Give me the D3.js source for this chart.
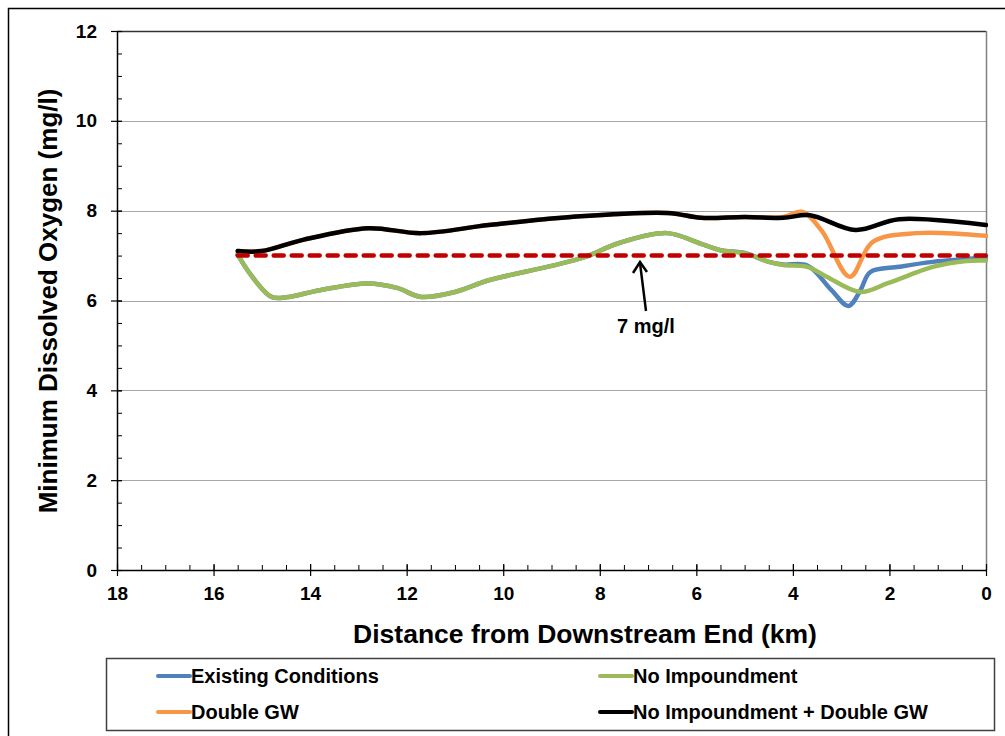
<!DOCTYPE html>
<html>
<head>
<meta charset="utf-8">
<script src="https://cdn.jsdelivr.net/npm/d3@7"></script>
<style>
  body { margin: 0; background: #fff; }
  svg { display: block; font-family: "Liberation Sans", Arial, sans-serif; }
  .tick text { font-size: 19px; font-weight: bold; fill: #000; }
</style>
</head>
<body>
<div id="chart"></div>
<script>
const existingKm  = [15.5, 15.2, 14.8, 14.5, 13.8, 12.8, 12.2, 11.7, 11.0, 10.3, 9.0, 8.3, 7.6, 6.6, 5.9, 5.5, 5.0, 4.5, 4.2, 3.7, 3.2, 2.85, 2.6, 2.4, 1.8, 1.1, 0];
const existingDO  = [7.02, 6.53, 6.08, 6.07, 6.23, 6.38, 6.28, 6.08, 6.19, 6.45, 6.77, 6.97, 7.28, 7.50, 7.26, 7.12, 7.06, 6.86, 6.80, 6.78, 6.23, 5.88, 6.23, 6.63, 6.75, 6.86, 6.95];

const noImpKm     = [15.5, 15.2, 14.8, 14.5, 13.8, 12.8, 12.2, 11.7, 11.0, 10.3, 9.0, 8.3, 7.6, 6.6, 5.9, 5.5, 5.0, 4.5, 4.2, 3.7, 3.3, 2.6, 2.05, 1.6, 1.1, 0.4, 0];
const noImpDO     = [7.02, 6.53, 6.08, 6.07, 6.23, 6.38, 6.28, 6.08, 6.19, 6.45, 6.77, 6.97, 7.28, 7.50, 7.26, 7.12, 7.05, 6.86, 6.79, 6.75, 6.53, 6.19, 6.38, 6.56, 6.75, 6.88, 6.89];

const doubleGwKm  = [15.5, 15.0, 14.15, 12.8, 11.7, 10.3, 8.6, 6.6, 5.9, 5.0, 4.2, 3.8, 3.4, 2.82, 2.35, 1.45, 0];
const doubleGwDO  = [7.10, 7.10, 7.35, 7.61, 7.50, 7.68, 7.86, 7.95, 7.84, 7.86, 7.86, 7.97, 7.55, 6.53, 7.30, 7.50, 7.44];

const bothKm      = [15.5, 15.0, 14.15, 12.8, 11.7, 10.3, 8.6, 6.6, 5.9, 5.0, 4.2, 3.65, 2.7, 1.8, 0];
const bothDO      = [7.10, 7.10, 7.35, 7.61, 7.50, 7.68, 7.86, 7.95, 7.84, 7.86, 7.84, 7.90, 7.57, 7.81, 7.68];

const criterionKm = [15.5, 0];
const criterionDO = [7, 7];

const xTicks = [18, 16, 14, 12, 10, 8, 6, 4, 2, 0];
const yTicks = [0, 2, 4, 6, 8, 10, 12];

const seriesNames  = ["Existing Conditions", "No Impoundment", "Double GW", "No Impoundment + Double GW"];
const seriesColors = ["#4f81bd", "#9bbb59", "#f79646", "#000000"];

const width = 1005, height = 736;
const plot = { left: 117, right: 986, top: 31, bottom: 570 };

const svg = d3.select("#chart").append("svg")
    .attr("width", width)
    .attr("height", height);

// outer chart frame
svg.append("rect")
    .attr("x", 8.5).attr("y", 8.5)
    .attr("width", 1010).attr("height", 740)
    .attr("fill", "none").attr("stroke", "#000").attr("stroke-width", 1.5);

const x = d3.scaleLinear().domain([18, 0]).range([plot.left, plot.right]);
const y = d3.scaleLinear().domain([0, 12]).range([plot.bottom, plot.top]);

// gridlines
svg.append("g")
    .selectAll("line")
    .data(yTicks.filter(d => d > 0 && d < 12))
    .enter().append("line")
    .attr("x1", plot.left).attr("x2", plot.right)
    .attr("y1", d => Math.round(y(d)) + 0.5).attr("y2", d => Math.round(y(d)) + 0.5)
    .attr("stroke", "#a6a6a6").attr("stroke-width", 1);

// plot border (top and right)
svg.append("line")
    .attr("x1", plot.left).attr("x2", plot.right)
    .attr("y1", plot.top + 0.5).attr("y2", plot.top + 0.5)
    .attr("stroke", "#333").attr("stroke-width", 1.5);
svg.append("line")
    .attr("x1", plot.right + 0.5).attr("x2", plot.right + 0.5)
    .attr("y1", plot.top).attr("y2", plot.bottom)
    .attr("stroke", "#808080").attr("stroke-width", 1.5);

// minor ticks (inside)
const yMinor = d3.range(0, 12.01, 0.5);
svg.append("g").attr("transform", `translate(${plot.left},0)`)
    .call(d3.axisRight(y).tickValues(yMinor).tickSize(5).tickFormat(""))
    .call(g => g.select(".domain").remove());
const xMinor = d3.range(0, 18.01, 0.5);
svg.append("g").attr("transform", `translate(0,${plot.bottom})`)
    .call(d3.axisTop(x).tickValues(xMinor).tickSize(5).tickFormat(""))
    .call(g => g.select(".domain").remove());

// major axes
const yAxis = svg.append("g").attr("transform", `translate(${plot.left},0)`)
    .call(d3.axisLeft(y).tickValues(yTicks).tickSize(6).tickPadding(14).tickSizeOuter(0));
yAxis.selectAll(".tick line").attr("x2", 5).attr("x1", -6);
const xAxis = svg.append("g").attr("transform", `translate(0,${plot.bottom})`)
    .call(d3.axisBottom(x).tickValues(xTicks).tickSize(6).tickPadding(11).tickSizeOuter(0));
xAxis.selectAll(".tick line").attr("y1", -6).attr("y2", 6);

[yAxis, xAxis].forEach(g => {
  g.attr("font-family", null).attr("font-size", null);
  g.select(".domain").attr("stroke", "#000").attr("stroke-width", 1.5);
  g.selectAll(".tick line").attr("stroke", "#000").attr("stroke-width", 1.2);
});
svg.selectAll("g .tick line").attr("stroke", "#000");

// axis titles
svg.append("text")
    .attr("transform", "translate(57,301) rotate(-90)")
    .attr("text-anchor", "middle")
    .attr("font-size", 26).attr("font-weight", "bold")
    .text("Minimum Dissolved Oxygen (mg/l)");
svg.append("text")
    .attr("x", 585).attr("y", 643)
    .attr("text-anchor", "middle")
    .attr("font-size", 26.5).attr("font-weight", "bold")
    .text("Distance from Downstream End (km)");

// lines
const line = d3.line()
    .x(d => x(d[0])).y(d => y(d[1]))
    .curve(d3.curveCatmullRom.alpha(0.5));
svg.append("clipPath").attr("id", "clip")
    .append("rect").attr("x", plot.left).attr("y", plot.top)
    .attr("width", plot.right - plot.left + 2).attr("height", plot.bottom - plot.top);

const drawOrder = [
  { km: existingKm, v: existingDO, color: seriesColors[0] },
  { km: doubleGwKm, v: doubleGwDO, color: seriesColors[2] },
  { km: noImpKm, v: noImpDO, color: seriesColors[1] },
  { km: bothKm, v: bothDO, color: seriesColors[3] }
];
const lines = svg.append("g").attr("clip-path", "url(#clip)");
drawOrder.forEach(s => {
  lines.append("path")
      .datum(d3.zip(s.km, s.v))
      .attr("d", line)
      .attr("fill", "none")
      .attr("stroke", s.color)
      .attr("stroke-width", 4.5)
      .attr("stroke-linejoin", "round")
      .attr("stroke-linecap", "round");
});

// 7 mg/l criterion
lines.append("path")
    .datum(d3.zip(criterionKm, criterionDO))
    .attr("d", d3.line().x(d => x(d[0])).y(d => y(d[1])))
    .attr("fill", "none")
    .attr("stroke", "#c00000")
    .attr("stroke-width", 4.5)
    .attr("stroke-dasharray", "10 8")
    .attr("stroke-linecap", "round");

// annotation arrow
svg.append("line")
    .attr("x1", 646).attr("y1", 311)
    .attr("x2", 640).attr("y2", 263)
    .attr("stroke", "#000").attr("stroke-width", 2.5);
svg.append("path")
    .attr("d", "M633,273 L640,262 L647,272")
    .attr("fill", "none").attr("stroke", "#000")
    .attr("stroke-width", 2.5).attr("stroke-linejoin", "miter");
svg.append("text")
    .attr("x", 646).attr("y", 333)
    .attr("text-anchor", "middle")
    .attr("font-size", 20).attr("font-weight", "bold")
    .text("7 mg/l");

// legend
svg.append("rect")
    .attr("x", 106.5).attr("y", 658.5)
    .attr("width", 888).attr("height", 72)
    .attr("fill", "#fff").attr("stroke", "#404040").attr("stroke-width", 1.5);
const legendPos = [[158, 676], [600, 676], [158, 712], [600, 712]];
const legend = svg.append("g")
    .selectAll("g")
    .data(seriesNames)
    .enter().append("g")
    .attr("transform", (d, i) => `translate(${legendPos[i][0]},${legendPos[i][1]})`);
legend.append("line")
    .attr("x1", 0).attr("x2", 32)
    .attr("stroke", (d, i) => seriesColors[i])
    .attr("stroke-width", 4).attr("stroke-linecap", "round");
legend.append("text")
    .attr("x", 33).attr("y", 7)
    .attr("font-size", 20).attr("font-weight", "bold")
    .text(d => d);
</script>
</body>
</html>
